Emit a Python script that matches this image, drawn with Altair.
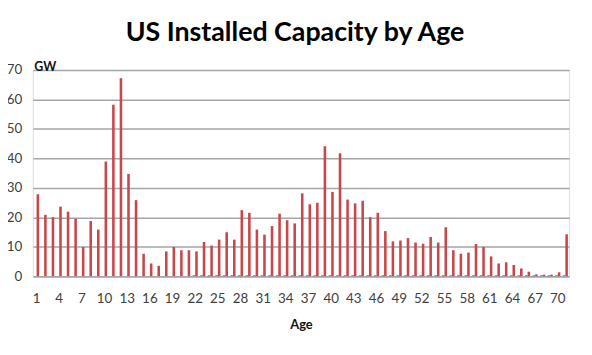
import altair as alt
import pandas as pd

ages = list(range(1, 72))
capacity_gw = [27.8, 20.8, 20.0, 23.6, 21.9, 19.5, 9.9, 18.7, 15.8, 38.9,
               58.2, 67.2, 34.7, 25.8, 7.6, 4.3, 3.5, 8.4, 9.9, 8.8,
               8.8, 8.4, 11.6, 10.4, 12.4, 14.9, 12.4, 22.4, 21.5, 15.8,
               14.1, 17.0, 21.2, 19.0, 17.9, 28.1, 24.4, 24.9, 44.1, 28.6,
               41.7, 26.0, 24.7, 25.6, 20.0, 21.5, 15.3, 11.8, 12.1, 12.9,
               11.4, 11.0, 13.3, 11.4, 16.6, 8.8, 7.6, 8.0, 10.9, 9.9,
               6.7, 4.3, 4.7, 3.8, 2.6, 1.5, 0.6, 0.5, 0.5, 1.3,
               14.2]
other_gw = [0, 0, 0, 0, 0, 0, 0, 0, 0, 0,
            0, 0, 0, 0, 0, 0, 0, 0, 0, 0,
            0, 0.3, 0.3, 0.3, 0.3, 0.3, 0.3, 0.3, 0.3, 0.3,
            0.3, 0.3, 0.3, 0.3, 0.3, 0.3, 0.3, 0.3, 0.3, 0.3,
            0.3, 0.3, 0.3, 0.3, 0.3, 0.3, 0.3, 0.3, 0.3, 0.3,
            0.3, 0.3, 0.3, 0.3, 0.3, 0.3, 0.3, 0.3, 0.3, 0.3,
            0.3, 0.3, 0.3, 0.3, 0.3, 0.3, 0.3, 0.3, 0.3, 0.3,
            0.3]
series_names = ["Other", "Capacity"]
series_colors = ["#4f81bd", "#c9474a"]
tick_ages = [1, 4, 7, 10, 13, 16, 19, 22, 25, 28, 31, 34, 37, 40, 43, 46,
             49, 52, 55, 58, 61, 64, 67, 70]

rows = []
for a, o, c in zip(ages, other_gw, capacity_gw):
    rows.append({"age": a, "series": series_names[0], "gw": o})
    rows.append({"age": a, "series": series_names[1], "gw": c})
df = pd.DataFrame(rows)

FONT = "Lato"

chart = alt.Chart(df).mark_bar().encode(
    x=alt.X("age:O", sort=ages,
            scale=alt.Scale(paddingInner=0.32, paddingOuter=0.16),
            axis=alt.Axis(values=tick_ages, labelAngle=0, ticks=False,
                          labelPadding=16, labelFontSize=13.5, labelColor="#404040",
                          labelFont=FONT, domainColor="#a6a6a6", domainWidth=1.5,
                          title="Age", titleFont=FONT, titleFontSize=13,
                          titleFontWeight="bold", titleColor="#111111",
                          titlePadding=13, grid=False)),
    xOffset=alt.XOffset("series:N", sort=series_names,
                        scale=alt.Scale(domain=series_names)),
    y=alt.Y("gw:Q", scale=alt.Scale(domain=[0, 70], nice=False),
            axis=alt.Axis(values=[0, 10, 20, 30, 40, 50, 60, 70], domain=False,
                          ticks=False, labelPadding=11, labelFontSize=13.5,
                          labelColor="#404040", labelFont=FONT,
                          gridColor="#a6a6a6", gridWidth=1.5,
                          title="GW", titleAngle=0, titleAlign="left",
                          titleBaseline="alphabetic", titleX=1, titleY=1,
                          titleFont=FONT, titleFontSize=12.5,
                          titleFontWeight="bold", titleColor="#111111")),
    color=alt.Color("series:N", scale=alt.Scale(domain=series_names,
                                                range=series_colors),
                    legend=None),
).properties(
    width=541,
    height=208,
    title=alt.TitleParams("US Installed Capacity by Age", font=FONT, fontSize=27,
                          fontWeight="bold", color="#000000", anchor="middle",
                          baseline="alphabetic", offset=25, dy=32, dx=-6),
    autosize=alt.AutoSizeParams(type="none"),
    padding={"left": 25, "top": 61, "right": 15, "bottom": 70},
).configure_view(stroke=None).configure(background="white")

chart.save("out.html", embed_options={"renderer": "svg", "actions": False})
